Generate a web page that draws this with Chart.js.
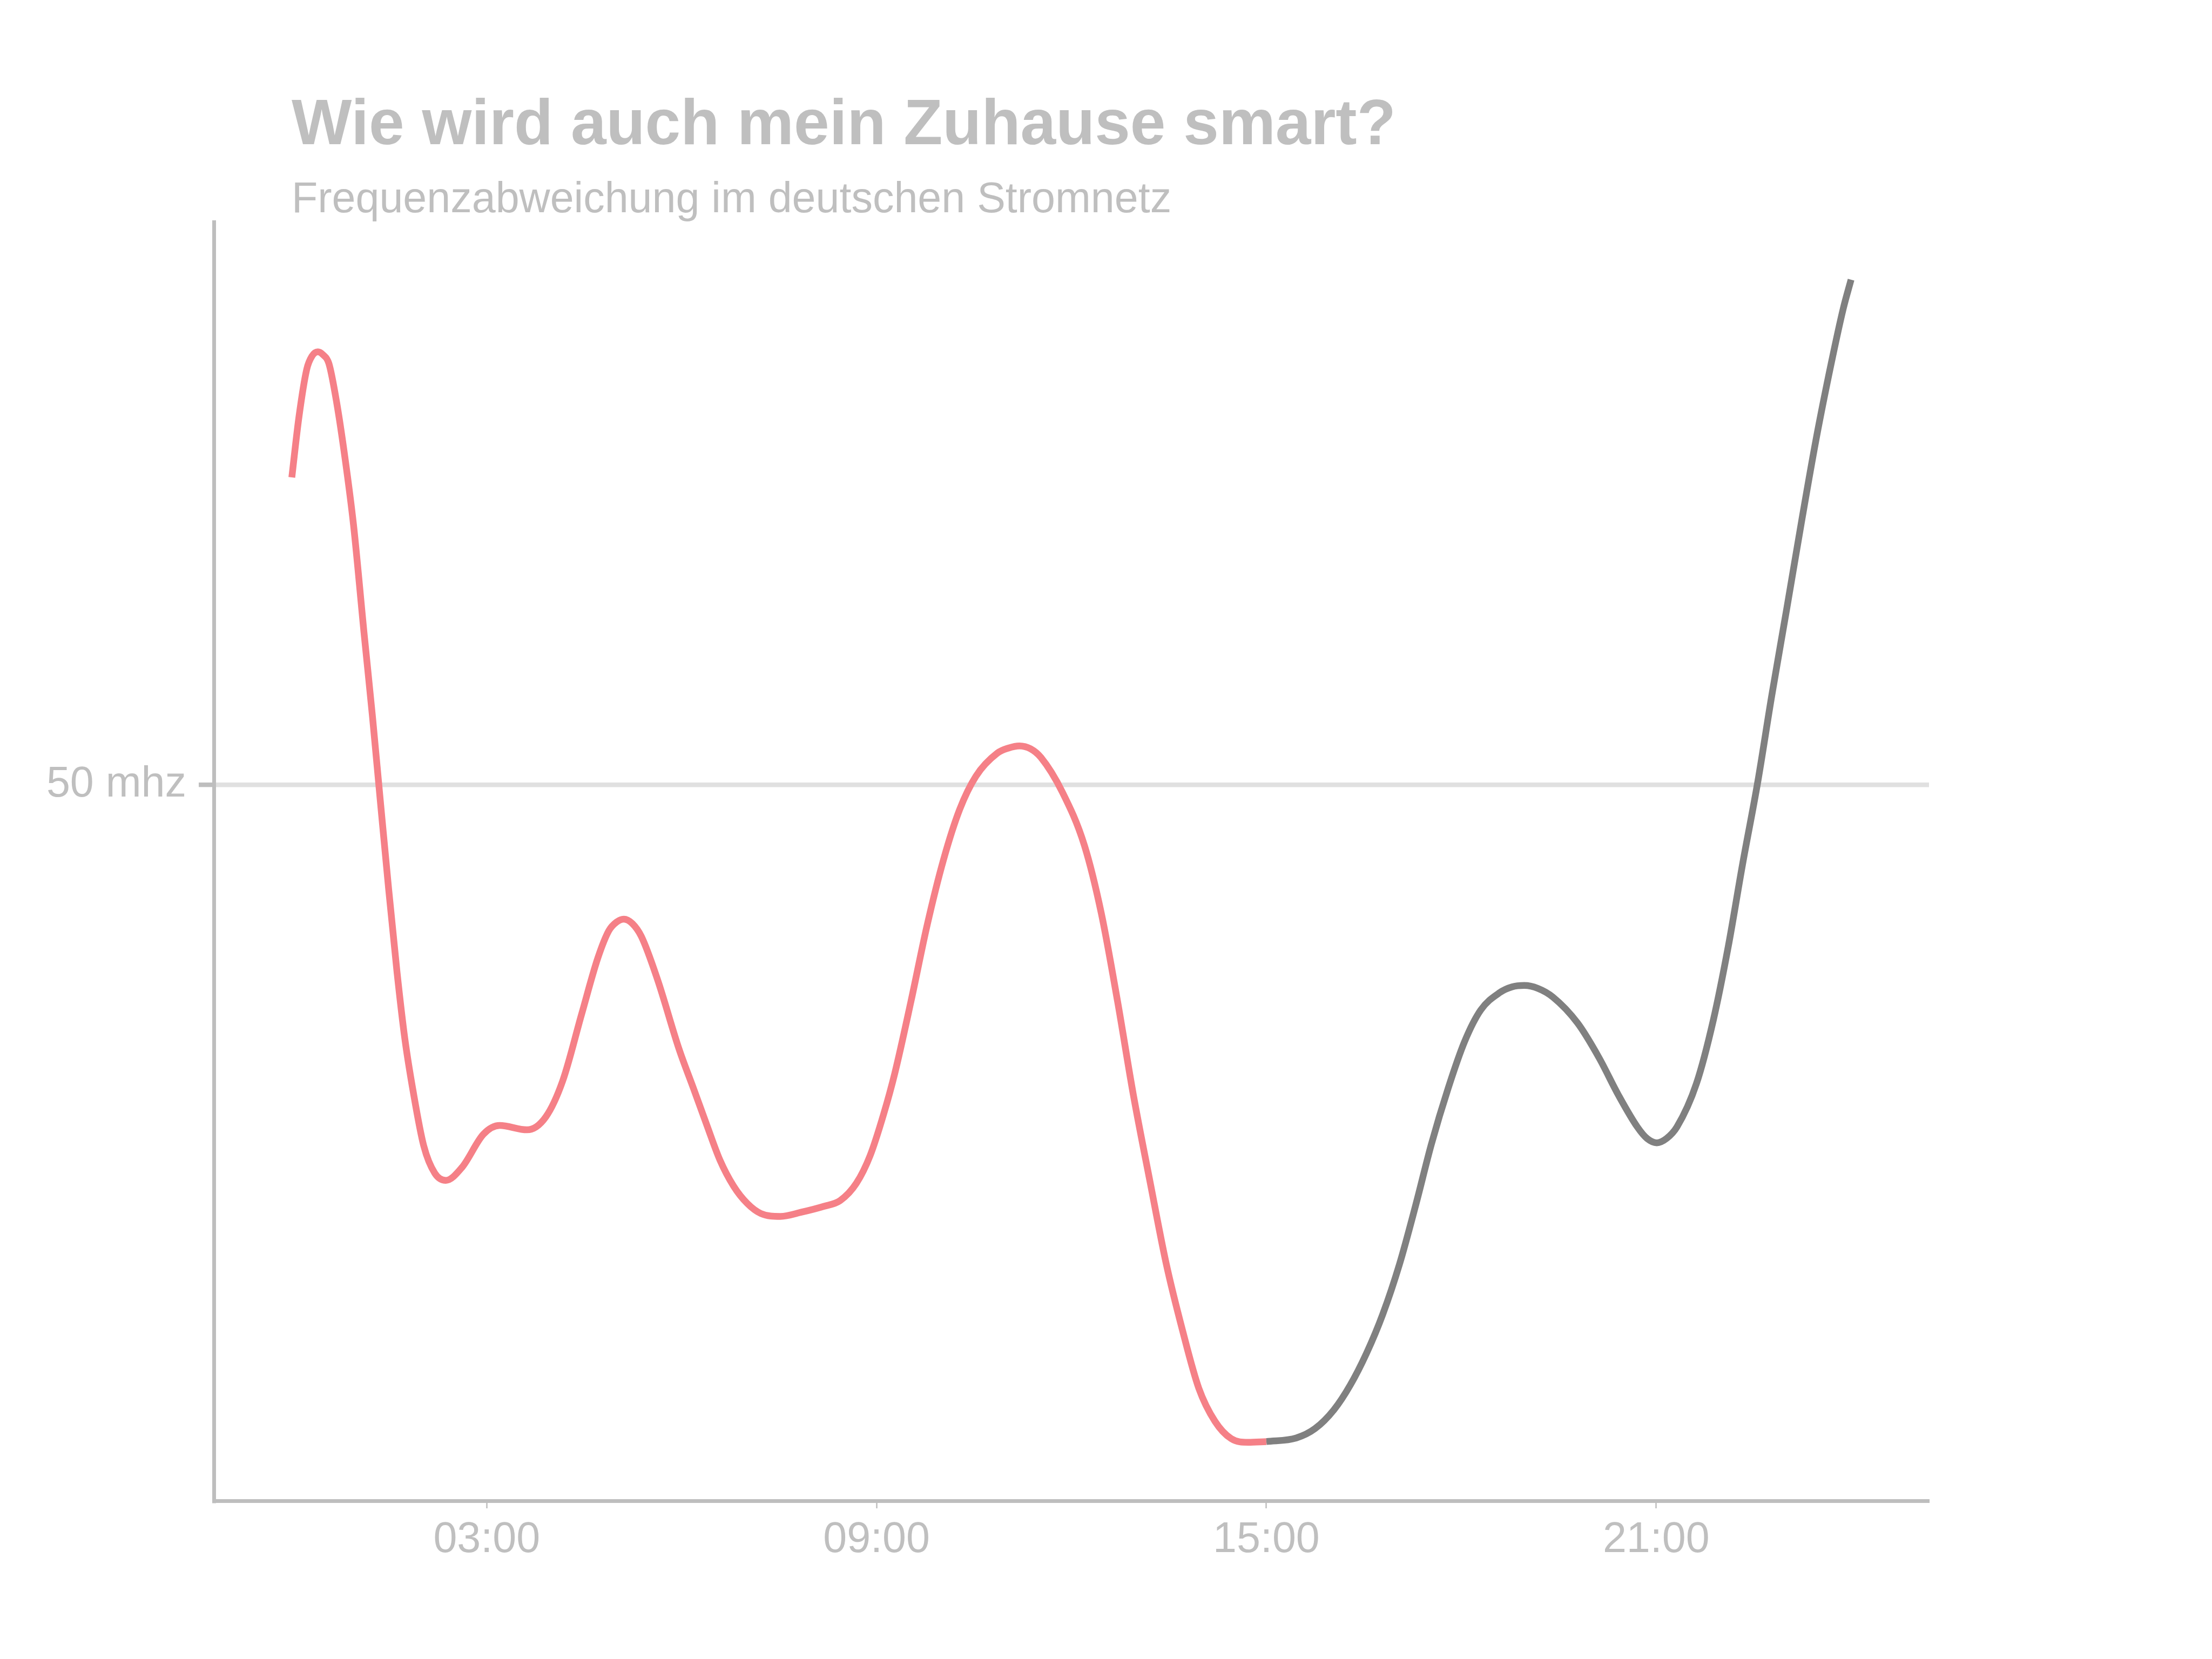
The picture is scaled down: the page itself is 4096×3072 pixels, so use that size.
<!DOCTYPE html>
<html>
<head>
<meta charset="utf-8">
<script src="https://cdn.jsdelivr.net/npm/chart.js@4/dist/chart.umd.min.js"></script>
<style>
html, body { margin: 0; padding: 0; background: #ffffff; }
#wrap { width: 4096px; height: 3072px; }
</style>
</head>
<body>
<div id="wrap"><canvas id="c" width="4096" height="3072"></canvas></div>
<script>
// ---- data ----
const titleText = 'Wie wird auch mein Zuhause smart?';
const subtitleText = 'Frequenzabweichung im deutschen Stromnetz';

const redHours = [0, 0.11, 0.23, 0.31, 0.40, 0.48, 0.57, 0.69, 0.82, 0.95, 1.11, 1.24, 1.36, 1.49, 1.62, 1.74, 1.87,
  2.03, 2.20, 2.37, 2.62, 2.95, 3.20, 3.62, 3.91, 4.17, 4.46, 4.71, 4.88, 5.00, 5.11, 5.24, 5.38, 5.63, 5.96,
  6.18, 6.39, 6.59, 6.80, 7.01, 7.22, 7.52, 7.85, 8.19, 8.44, 8.69, 8.90, 9.11, 9.28, 9.53, 9.78,
  10.03, 10.28, 10.53, 10.86, 11.03, 11.20, 11.37, 11.53, 11.86, 12.20, 12.46, 12.71, 12.95, 13.21, 13.46, 13.71,
  13.96, 14.21, 14.46, 14.72, 15.0];
const redValues = [71.3, 75.5, 78.8, 79.7, 80.0, 79.8, 79.2, 76.5, 72.6, 68.0, 60.6, 54.8, 49.0, 42.8, 37.0, 32.4, 28.7,
  25.0, 23.1, 22.6, 23.5, 25.8, 26.4, 26.1, 27.0, 29.5, 34.1, 38.0, 39.9, 40.5, 40.7, 40.4, 39.5, 36.5, 31.7,
  29.0, 26.4, 24.0, 22.2, 21.0, 20.3, 20.1, 20.4, 20.8, 21.2, 22.4, 24.3, 27.2, 30.0, 35.0, 40.3,
  44.8, 48.3, 50.6, 52.2, 52.55, 52.7, 52.5, 51.9, 49.5, 45.8, 41.1, 35.0, 28.6, 22.5, 16.8, 12.2,
  8.2, 5.9, 4.7, 4.45, 4.5];

const greyHours = [15.0, 15.46, 15.75, 16.04, 16.29, 16.54, 16.79, 17.05, 17.30, 17.54, 17.80, 18.05, 18.30,
  18.59, 18.78, 18.97, 19.18, 19.41, 19.79, 20.12, 20.42, 20.71, 20.86, 21.01, 21.16, 21.32, 21.62, 21.88, 22.11, 22.33, 22.56,
  22.78, 23.01, 23.24, 23.46, 23.69, 23.88, 24.0];
const greyValues = [4.5, 4.75, 5.4, 6.7, 8.4, 10.6, 13.3, 16.8, 20.9, 25.1, 29.0, 32.2, 34.4,
  35.6, 36.0, 36.1, 35.9, 35.3, 33.5, 31.1, 28.5, 26.3, 25.5, 25.2, 25.5, 26.3, 29.3, 33.7, 38.8, 44.5, 50.1,
  56.2, 62.2, 68.3, 73.9, 79.1, 83.0, 85.0];

const xTickValues = [3, 9, 15, 21];
const xTickLabels = ['03:00', '09:00', '15:00', '21:00'];
const yTickValues = [50];
const yTickLabels = ['50 mhz'];
const xRange = [-1.2, 25.2];
const yRange = [0.4, 89.0];

// ---- chart ----
const FONT = '"Liberation Sans", Arial, Helvetica, sans-serif';
const TEXT = '#bfbfbf';
Chart.defaults.font.family = FONT;
Chart.defaults.color = TEXT;

const titlePlugin = {
  id: 'titles',
  afterDraw(chart) {
    const ctx = chart.ctx;
    ctx.save();
    ctx.fillStyle = TEXT;
    ctx.textAlign = 'left';
    ctx.textBaseline = 'alphabetic';
    ctx.font = 'bold 118px ' + FONT;
    ctx.fillText(titleText, 540, 267);
    ctx.font = '79px ' + FONT;
    ctx.fillText(subtitleText, 540, 393);
    ctx.restore();
  }
};

const toPts = (xs, ys) => xs.map((h, i) => ({ x: h, y: ys[i] }));

new Chart(document.getElementById('c'), {
  type: 'line',
  data: {
    datasets: [
      {
        data: toPts(redHours, redValues),
        borderColor: 'rgb(245,128,135)',
        borderWidth: 12.5,
        pointRadius: 0,
        fill: false,
        cubicInterpolationMode: 'monotone',
        borderCapStyle: 'butt',
        borderJoinStyle: 'round'
      },
      {
        data: toPts(greyHours, greyValues),
        borderColor: '#808080',
        borderWidth: 12.5,
        pointRadius: 0,
        fill: false,
        cubicInterpolationMode: 'monotone',
        borderCapStyle: 'butt',
        borderJoinStyle: 'round'
      }
    ]
  },
  options: {
    responsive: false,
    animation: false,
    devicePixelRatio: 1,
    layout: { padding: { top: 411, right: 524, bottom: 93, left: 0 } },
    plugins: {
      legend: { display: false },
      tooltip: { enabled: false },
      title: { display: false }
    },
    scales: {
      x: {
        type: 'linear',
        min: xRange[0],
        max: xRange[1],
        afterBuildTicks: s => { s.ticks = xTickValues.map(v => ({ value: v })); },
        afterFit: s => { s.height = 200; },
        ticks: {
          callback: (v, i) => xTickLabels[i],
          color: TEXT,
          font: { size: 79 },
          padding: 12,
          maxRotation: 0,
          autoSkip: false
        },
        grid: {
          drawOnChartArea: false,
          drawTicks: true,
          tickLength: 14,
          tickWidth: 2.5,
          tickColor: '#bebebe'
        },
        border: { display: true, color: '#bebebe', width: 7 }
      },
      y: {
        type: 'linear',
        min: yRange[0],
        max: yRange[1],
        afterBuildTicks: s => { s.ticks = yTickValues.map(v => ({ value: v })); },
        afterFit: s => { s.width = 396; },
        ticks: {
          callback: (v, i) => yTickLabels[i],
          color: TEXT,
          font: { size: 79 },
          padding: 23,
          autoSkip: false
        },
        grid: {
          drawOnChartArea: true,
          color: '#e0e0e0',
          lineWidth: 8.4,
          drawTicks: true,
          tickLength: 28,
          tickWidth: 8.4,
          tickColor: '#bebebe'
        },
        border: { display: true, color: '#bebebe', width: 7 }
      }
    }
  },
  plugins: [titlePlugin]
});
</script>
</body>
</html>
